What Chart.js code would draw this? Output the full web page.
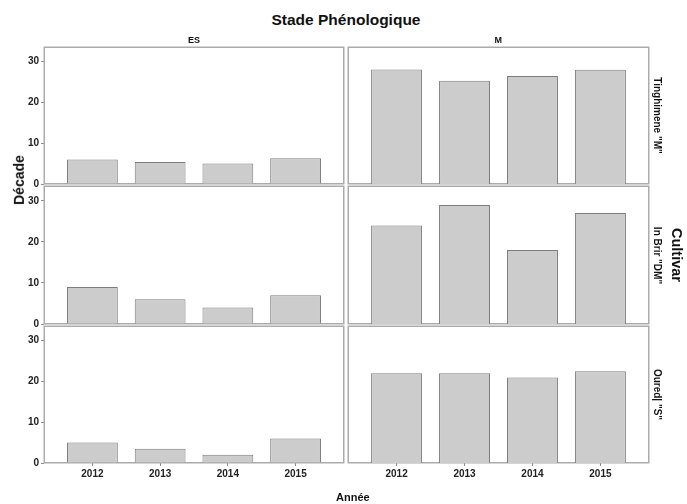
<!DOCTYPE html>
<html>
<head>
<meta charset="utf-8">
<script src="https://cdn.jsdelivr.net/npm/chart.js@4"></script>
<style>
  html, body { margin:0; padding:0; background:#fff; }
  #wrap { position:relative; width:687px; height:504px; overflow:hidden; font-family:"Liberation Sans", Arial, sans-serif; }
  canvas { position:absolute; }
  .t { position:absolute; font-weight:bold; color:#111; white-space:nowrap; transform-origin:center center; }
</style>
</head>
<body>
<div id="wrap"></div>
<script>
// ---- data ----
const years = [2012, 2013, 2014, 2015];
const stages = ['ES', 'M'];
const cultivars = ['Tinghimene "M"', 'In Brir "DM"', 'Oured| "S"'];
const esTinghimene = [6.0, 5.4, 5.0, 6.3];
const mTinghimene  = [28.1, 25.3, 26.5, 28.0];
const esInBrir     = [9, 6, 4, 7];
const mInBrir      = [24, 29, 18, 27];
const esOured      = [5, 3.5, 2, 6];
const mOured       = [22, 22, 21, 22.5];
const yTicks = [0, 10, 20, 30];
const titleText = 'Stade Phénologique';
const xTitle = 'Année';
const yTitle = 'Décade';
const rowTitle = 'Cultivar';

const grid = [
  [esTinghimene, mTinghimene],
  [esInBrir, mInBrir],
  [esOured, mOured]
];

// ---- layout ----
const rows = [{top:47, bottom:184}, {top:186, bottom:324}, {top:326, bottom:463}];
const cols = [{left:44, right:344}, {left:348, right:649}];
const yMax = 33.6;
const xPad = 0.715;

const wrap = document.getElementById('wrap');

const framePlugin = {
  id: 'frame',
  beforeDatasetsDraw(chart) {
    const a = chart.chartArea, ctx = chart.ctx;
    ctx.save();
    ctx.strokeStyle = '#ababab';
    ctx.lineWidth = 1.5;
    ctx.strokeRect(a.left + 0.25, a.top + 0.25, a.right - a.left - 0.5, a.bottom - a.top - 0.5);
    ctx.restore();
  }
};

function addText(txt, x, y, size, rot) {
  const d = document.createElement('div');
  d.className = 't';
  d.textContent = txt;
  d.style.fontSize = size + 'px';
  wrap.appendChild(d);
  const w = d.offsetWidth, h = d.offsetHeight;
  d.style.left = (x - w / 2) + 'px';
  d.style.top = (y - h / 2) + 'px';
  if (rot) d.style.transform = 'rotate(' + rot + 'deg)';
}

rows.forEach((r, ri) => {
  cols.forEach((c, ci) => {
    const isLeft = ci === 0;
    const isBottom = ri === rows.length - 1;
    const cv = document.createElement('canvas');
    const cLeft = isLeft ? 0 : c.left - 4;
    const cTop = r.top - 8;
    const w = c.right - cLeft + 4;
    const h = (r.bottom - r.top) + 8 + (isBottom ? 24 : 8);
    cv.width = w; cv.height = h;
    cv.style.left = cLeft + 'px'; cv.style.top = cTop + 'px';
    cv.style.width = w + 'px'; cv.style.height = h + 'px';
    wrap.appendChild(cv);
    const vals = grid[ri][ci];
    new Chart(cv, {
      type: 'bar',
      data: {
        datasets: [{
          data: years.map((yr, i) => ({x: yr, y: vals[i]})),
          backgroundColor: '#cccccc',
          borderColor: '#7d7d7d',
          borderWidth: 1,
          barPercentage: 0.75,
          categoryPercentage: 1.0
        }]
      },
      options: {
        responsive: false,
        animation: false,
        events: [],
        layout: { padding: { left: isLeft ? 0 : 4, right: 4, top: 8, bottom: isBottom ? 0 : 8 } },
        plugins: { legend: { display: false }, tooltip: { enabled: false }, title: { display: false } },
        scales: {
          x: {
            type: 'linear',
            display: isBottom,
            offset: false,
            min: years[0] - xPad,
            max: years[years.length - 1] + xPad,
            afterBuildTicks: s => { s.ticks = years.map(v => ({value: v})); },
            afterFit: s => { if (isBottom) s.height = 24; },
            grid: { drawOnChartArea: false, offset: false, tickLength: 3, color: '#8a8a8a', lineWidth: 1 },
            border: { display: false },
            ticks: {
              padding: 2,
              color: '#222',
              font: { family: '"Liberation Sans", Arial, sans-serif', size: 10, weight: 'bold' },
              callback: v => String(v),
              maxRotation: 0, autoSkip: false
            }
          },
          y: {
            display: isLeft,
            min: 0,
            max: yMax,
            afterBuildTicks: s => { s.ticks = yTicks.map(v => ({value: v})); },
            afterFit: s => { if (isLeft) s.width = 44; },
            grid: { drawOnChartArea: false, tickLength: 3, color: '#8a8a8a', lineWidth: 1 },
            border: { display: false },
            ticks: {
              padding: 2,
              color: '#222',
              font: { family: '"Liberation Sans", Arial, sans-serif', size: 10, weight: 'bold' }
            }
          }
        }
      },
      plugins: [framePlugin]
    });
  });
});

addText(titleText, 346, 20, 15.5, 0);
addText(stages[0], (cols[0].left + cols[0].right) / 2, 40, 9, 0);
addText(stages[1], (cols[1].left + cols[1].right) / 2, 40, 9, 0);
addText(yTitle, 19, 180, 14, -90);
addText(rowTitle, 677, 255, 14.5, 90);
rows.forEach((r, i) => addText(cultivars[i], 657, (r.top + r.bottom) / 2, 10, 90));
addText(xTitle, 353, 497, 11, 0);
</script>
</body>
</html>
